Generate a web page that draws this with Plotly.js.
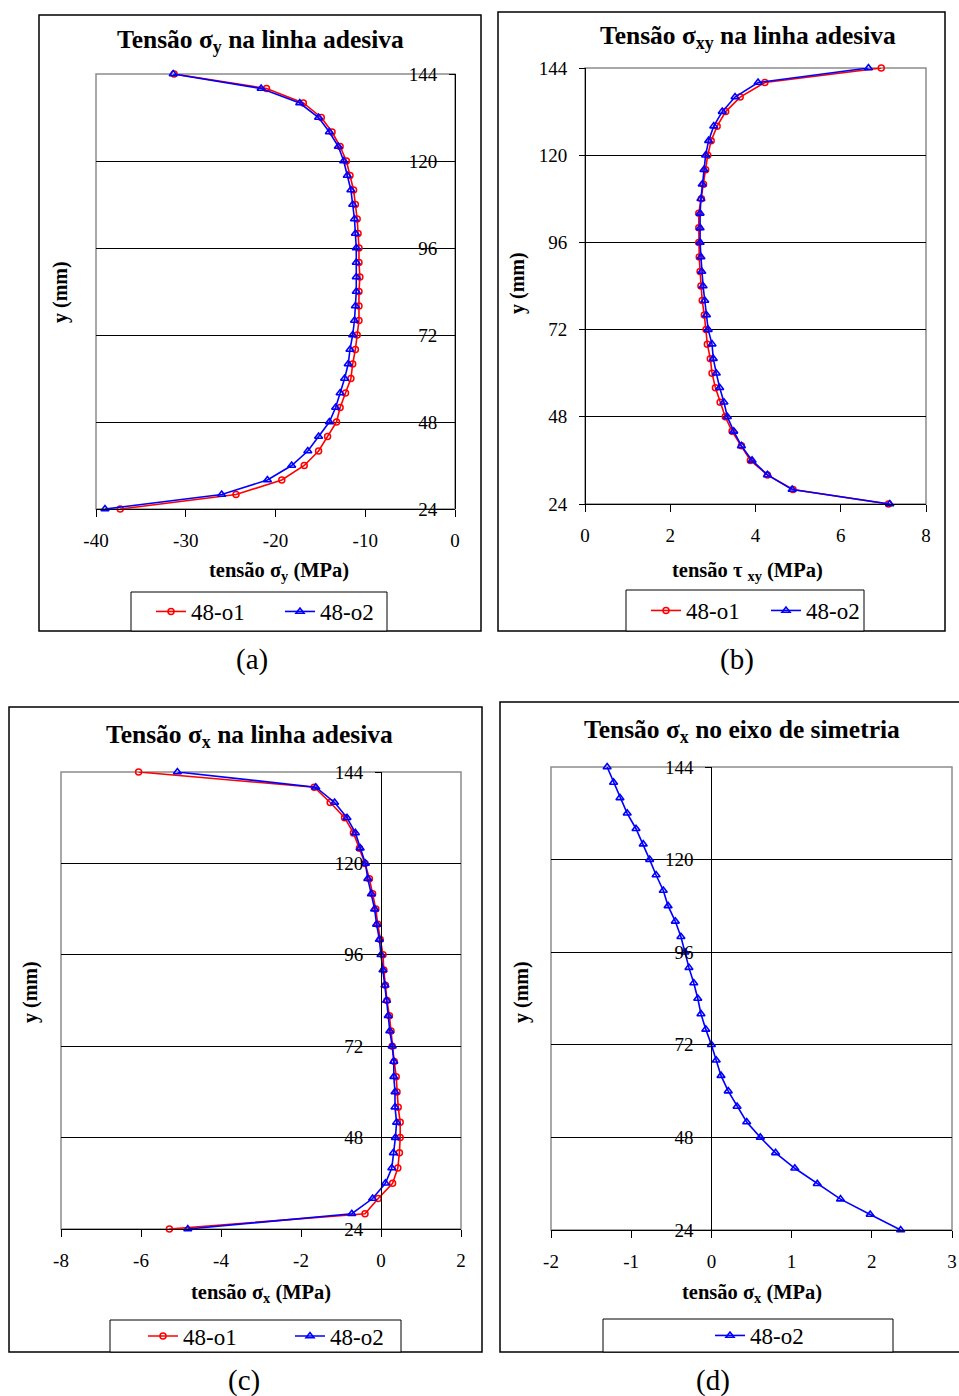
<!DOCTYPE html>
<html><head><meta charset="utf-8">
<script src="https://cdn.plot.ly/plotly-3.0.1.min.js"></script>
<style>html,body{margin:0;padding:0;background:#fff}#chart{width:959px;height:1396px}</style>
</head><body><div id="chart"></div>
<script>
// ---------- DATA ----------
const yPositions = [144,140,136,132,128,124,120,116,112,108,104,100,96,92,88,84,80,76,72,68,64,60,56,52,48,44,40,36,32,28,24];
const yTickVals = [24,48,72,96,120,144];
const seriesNames = ['48-o1','48-o2'];

// x tick values / labels of each panel
const xTicksA = [-40,-30,-20,-10,0],   xTickTextA = ['-40','-30','-20','-10','0'];
const xTicksB = [0,2,4,6,8],           xTickTextB = ['0','2','4','6','8'];
const xTicksC = [-8,-6,-4,-2,0,2],     xTickTextC = ['-8','-6','-4','-2','0','2'];
const xTicksD = [-2,-1,0,1,2,3],       xTickTextD = ['-2','-1','0','1','2','3'];

// (a) tensão sigma_y na linha adesiva (MPa)
const sigmaY_o1 = [-31.3,-21.0,-16.9,-14.9,-13.7,-12.8,-12.1,-11.7,-11.3,-11.1,-10.9,-10.8,-10.7,-10.7,-10.6,-10.7,-10.7,-10.7,-10.9,-11.1,-11.4,-11.6,-12.2,-12.8,-13.2,-14.2,-15.2,-16.8,-19.3,-24.4,-37.3];
const sigmaY_o2 = [-31.4,-21.6,-17.3,-15.2,-14.0,-13.0,-12.4,-12.0,-11.6,-11.4,-11.2,-11.1,-11.0,-11.0,-11.0,-11.0,-11.1,-11.2,-11.4,-11.7,-11.9,-12.3,-12.8,-13.3,-14.0,-15.2,-16.4,-18.2,-20.9,-26.0,-39.0];
// (b) tensão tau_xy na linha adesiva (MPa)
const tauXY_o1 = [6.95,4.22,3.64,3.30,3.10,2.96,2.88,2.83,2.78,2.73,2.67,2.67,2.67,2.68,2.70,2.72,2.75,2.80,2.84,2.87,2.94,2.98,3.06,3.17,3.29,3.45,3.67,3.88,4.28,4.88,7.12];
const tauXY_o2 = [6.65,4.06,3.52,3.22,3.02,2.90,2.83,2.79,2.75,2.72,2.70,2.70,2.70,2.72,2.74,2.77,2.81,2.85,2.89,2.98,3.01,3.08,3.16,3.26,3.34,3.49,3.67,3.92,4.28,4.86,7.15];
// (c) tensão sigma_x na linha adesiva (MPa)
const sigmaX_o1 = [-6.06,-1.67,-1.27,-0.91,-0.69,-0.54,-0.40,-0.29,-0.21,-0.13,-0.08,-0.02,0.05,0.07,0.11,0.15,0.21,0.25,0.28,0.33,0.38,0.40,0.43,0.48,0.48,0.46,0.42,0.29,-0.07,-0.40,-5.29];
const sigmaX_o2 = [-5.09,-1.63,-1.16,-0.85,-0.64,-0.52,-0.39,-0.33,-0.24,-0.16,-0.11,-0.04,0.00,0.05,0.10,0.14,0.18,0.22,0.28,0.32,0.32,0.35,0.35,0.39,0.36,0.31,0.27,0.11,-0.21,-0.73,-4.83];
// (d) tensão sigma_x no eixo de simetria (MPa)
const sigmaXsym_o2 = [-1.30,-1.22,-1.14,-1.05,-0.94,-0.85,-0.77,-0.69,-0.60,-0.54,-0.45,-0.38,-0.33,-0.28,-0.22,-0.17,-0.13,-0.07,0.00,0.06,0.12,0.21,0.32,0.44,0.61,0.80,1.04,1.32,1.61,1.98,2.36];

const panelTitles = ['Tensão σ<sub>y</sub> na linha adesiva','Tensão σ<sub>xy</sub> na linha adesiva','Tensão σ<sub>x</sub> na linha adesiva','Tensão σ<sub>x</sub> no eixo de simetria'];
const xTitles = ['tensão σ<sub>y</sub> (MPa)','tensão τ <sub>xy</sub> (MPa)','tensão σ<sub>x</sub> (MPa)','tensão σ<sub>x</sub> (MPa)'];
const yTitle = 'y (mm)';
const panelLabels = ['(a)','(b)','(c)','(d)'];

// ---------- LAYOUT ----------
const W = 959, H = 1396;
const FONT = '"Liberation Serif","Times New Roman",Times,serif';
const fx = p => p / W;
const fy = p => 1 - p / H;
const RED = '#ff0000', BLUE = '#0000ff';

const panels = [
  {box:[96,74,455,509], xr:[-40,0], tv:xTicksA, tt:xTickTextA, frame:[39,15,481,631], leg:[131,592,387,631],
   legLeft:151, legEntry:84, title:[260,41], xt:[279,571], yt:[60,292], lab:[252,660],
   series:[[sigmaY_o1,0],[sigmaY_o2,1]]},
  {box:[585,68,926,504], xr:[0,8], tv:xTicksB, tt:xTickTextB, frame:[498,12,945,631], leg:[626,590,864,631],
   legLeft:646, legEntry:75, title:[748,37], xt:[747,571], yt:[517,283], lab:[737,660],
   series:[[tauXY_o1,0],[tauXY_o2,1]]},
  {box:[61,772,461,1229], xr:[-8,2], tv:xTicksC, tt:xTickTextC, frame:[9,707,482,1352], leg:[110,1320,401,1352],
   legLeft:143, legEntry:102, title:[249,736], xt:[261,1293], yt:[30,992], lab:[244,1380],
   series:[[sigmaX_o1,0],[sigmaX_o2,1]]},
  {box:[551,767,952,1230], xr:[-2,3], tv:xTicksD, tt:xTickTextD, frame:[500,702,975,1352], leg:[603,1319,893,1352],
   legLeft:710, legEntry:0, title:[742,731], xt:[752,1293], yt:[521,992], lab:[713,1380],
   series:[[sigmaXsym_o2,1]]}
];

const traces = [], shapes = [], annotations = [];
const layout = {
  width: W, height: H, margin:{l:0,r:0,t:0,b:0},
  paper_bgcolor:'#fff', plot_bgcolor:'rgba(0,0,0,0)',
  font:{family:FONT, color:'#000', size:19},
  shapes, annotations
};

panels.forEach((p, i) => {
  const n = i === 0 ? '' : String(i + 1);
  const [x0, y0, x1, y1] = p.box;
  const zeroPx = x0 + (0 - p.xr[0]) / (p.xr[1] - p.xr[0]) * (x1 - x0);
  layout['xaxis' + n] = {
    domain:[fx(x0), fx(x1)], range:p.xr, tickmode:'array', tickvals:p.tv, ticktext:p.tt,
    anchor:'y' + n, showgrid:false, zeroline:false,
    showline:true, linecolor:'#000', linewidth:1,
    ticks:'outside', ticklen:7, tickcolor:'#000', tickwidth:1,
    ticklabelstandoff:7, tickfont:{family:FONT, size:19, color:'#000'},
    fixedrange:true
  };
  layout['yaxis' + n] = {
    domain:[fy(y1), fy(y0)], range:[24,144], tickmode:'array', tickvals:yTickVals,
    anchor:'free', position:fx(zeroPx), side:'left',
    showgrid:true, gridcolor:'#000', gridwidth:1, zeroline:false,
    showline:true, linecolor:'#000', linewidth:1,
    ticks:'outside', ticklen:6, tickcolor:'#000', tickwidth:1,
    ticklabelstandoff:8, tickfont:{family:FONT, size:19, color:'#000'},
    fixedrange:true
  };
  const legName = i === 0 ? 'legend' : 'legend' + (i + 1);
  p.series.forEach(([vals, s]) => {
    traces.push({
      type:'scatter', mode:'lines+markers', x:vals, y:yPositions,
      xaxis:'x' + n, yaxis:'y' + n, name:seriesNames[s], legend:legName,
      cliponaxis:false,
      line:{color: s === 0 ? RED : BLUE, width:1.6},
      marker: s === 0
        ? {symbol:'circle-open', size:6, color:RED, line:{width:1.5, color:RED}}
        : {symbol:'triangle-up-open', size:7, color:BLUE, line:{width:1.6, color:BLUE}}
    });
  });
  layout[legName] = {
    x: fx(p.legLeft), y: fy((p.leg[1] + p.leg[3]) / 2),
    xanchor:'left', yanchor:'middle', orientation:'h',
    bgcolor:'rgba(0,0,0,0)', borderwidth:0, entrywidth:p.legEntry, entrywidthmode:'pixels',
    font:{family:FONT, size:23, color:'#000'}, itemclick:false, itemdoubleclick:false
  };
  // outer frame
  shapes.push({type:'rect', xref:'paper', yref:'paper', x0:fx(p.frame[0]), x1:fx(p.frame[2]), y0:fy(p.frame[3]), y1:fy(p.frame[1]), line:{color:'#000', width:1.5}, layer:'below'});
  // plot area border
  shapes.push({type:'rect', xref:'paper', yref:'paper', x0:fx(x0), x1:fx(x1), y0:fy(y1), y1:fy(y0), line:{color:'#8c8c8c', width:1.5}, layer:'below'});
  // legend box
  shapes.push({type:'rect', xref:'paper', yref:'paper', x0:fx(p.leg[0]), x1:fx(p.leg[2]), y0:fy(p.leg[3]), y1:fy(p.leg[1]), line:{color:'#000', width:1}, fillcolor:'#fff', layer:'below'});
  annotations.push({xref:'paper', yref:'paper', x:fx(p.title[0]), y:fy(p.title[1]), xanchor:'center', yanchor:'middle', showarrow:false,
    text:'<b>' + panelTitles[i] + '</b>', font:{family:FONT, size:25.5, color:'#000'}});
  annotations.push({xref:'paper', yref:'paper', x:fx(p.xt[0]), y:fy(p.xt[1]), xanchor:'center', yanchor:'middle', showarrow:false,
    text:'<b>' + xTitles[i] + '</b>', font:{family:FONT, size:20.5, color:'#000'}});
  annotations.push({xref:'paper', yref:'paper', x:fx(p.yt[0]), y:fy(p.yt[1]), xanchor:'center', yanchor:'middle', showarrow:false, textangle:-90,
    text:'<b>' + yTitle + '</b>', font:{family:FONT, size:20, color:'#000'}});
  annotations.push({xref:'paper', yref:'paper', x:fx(p.lab[0]), y:fy(p.lab[1]), xanchor:'center', yanchor:'middle', showarrow:false,
    text:panelLabels[i], font:{family:FONT, size:29, color:'#000'}});
});

Plotly.newPlot('chart', traces, layout, {displayModeBar:false, staticPlot:true});
</script></body></html>
